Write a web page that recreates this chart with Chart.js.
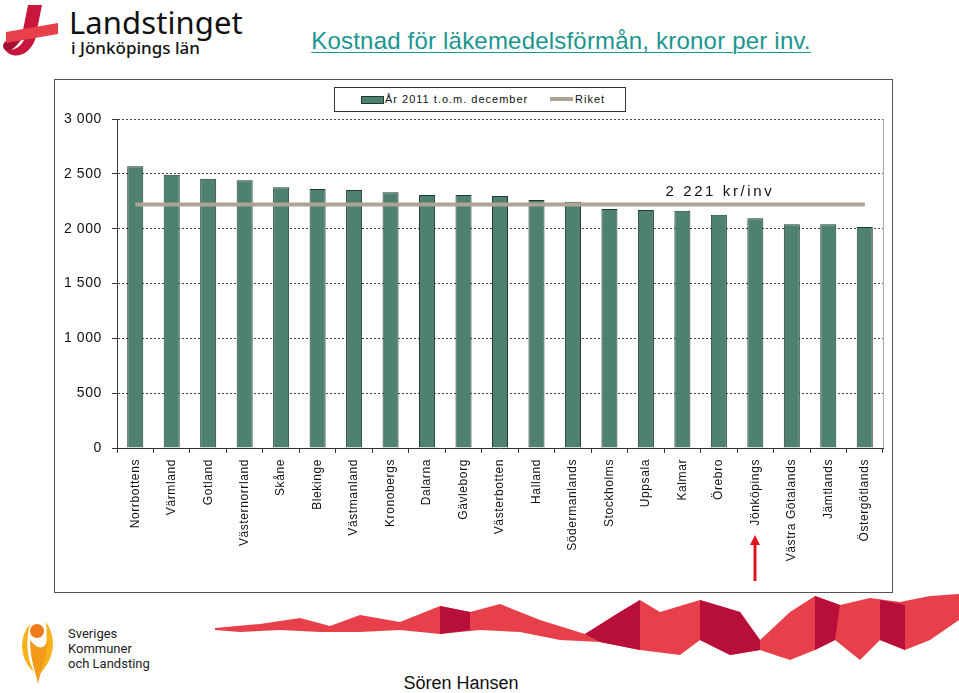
<!DOCTYPE html>
<html>
<head>
<meta charset="utf-8">
<script src="https://cdn.jsdelivr.net/npm/chart.js@4"></script>
<style>
  html, body { margin:0; padding:0; background:#fff; }
  body { width:959px; height:693px; position:relative; overflow:hidden; font-family:"Liberation Sans", Arial, sans-serif; }
  #frame { position:absolute; left:54px; top:79px; width:837px; height:512px; border:1px solid #555; }
  #c { position:absolute; left:55px; top:80px; }
  #title { position:absolute; left:0; width:959px; top:27px; text-align:center; padding-left:163px; box-sizing:border-box;
           font-size:24px; letter-spacing:0.2px; color:#1a968f; text-decoration:underline; text-underline-offset:3px; text-decoration-thickness:1px; }
  #legend { position:absolute; left:334px; top:87px; width:290px; height:23px; border:1px solid #333; background:#fff;
            font-size:11px; letter-spacing:1px; color:#111; }
  #legend .sw1 { position:absolute; left:26px; top:8px; width:21px; height:6px; background:#4f8170; border:1px solid #1f3a30; }
  #legend .t1 { position:absolute; left:50px; top:5px; }
  #legend .sw2 { position:absolute; left:215px; top:9px; width:23px; height:4px; background:#ada397; }
  #legend .t2 { position:absolute; left:240px; top:5px; }
  #logo1 { position:absolute; left:69px; top:5px; font-family:"Noto Sans", "Open Sans", sans-serif; color:#111; }
  #logo1 .a { font-size:31px; line-height:34px; letter-spacing:0.1px; }
  #logo1 .b { font-size:17px; line-height:18px; margin-left:2px; font-weight:500; }
  #skl { position:absolute; left:68px; top:626px; font-family:"Liberation Sans Narrow", "Roboto", sans-serif; font-size:13px; line-height:15px; color:#222; }
  #author { position:absolute; left:0; width:922px; text-align:center; top:673px; font-size:18px; color:#111; }
</style>
</head>
<body>
<svg width="959" height="693" style="position:absolute;left:0;top:0">
  <!-- top-left emblem -->
  <polygon points="28,5 42,5 35,40 21,40" fill="#c8163d"/>
  <path d="M4,48 C10,60 28,58 35,40 L24,40 C20,48 12,52 4,48 Z" fill="#c8163d"/>
  <path d="M22,38 C14,52 4,54 3,46 C3,41 10,38 20,38 Z" fill="#a40f33"/>
  <polygon points="6,32 58,23 58,34 6,43" fill="#e8404a"/>
  <!-- bottom ribbon -->
  <polygon points="215,628 260,624 300,618 330,626 360,615 400,622 440,606 470,612 500,604 540,620 585,634 620,612 640,600 660,612 700,600 740,612 760,640 790,612 815,596 840,605 870,598 900,602 930,596 959,594 959,620 930,640 905,650 880,640 860,660 835,640 815,650 790,660 760,650 730,655 700,640 680,655 640,650 600,642 560,640 520,632 480,630 440,634 400,630 360,632 320,632 280,630 240,632 215,630" fill="#e8404a"/>
  <polygon points="440,606 470,612 470,630 440,634" fill="#b80f3a"/>
  <polygon points="585,634 620,612 640,600 640,650 600,642" fill="#b80f3a"/>
  <polygon points="700,600 740,612 760,640 760,650 730,655 700,640" fill="#b80f3a"/>
  <polygon points="815,596 840,605 835,640 815,650" fill="#b80f3a"/>
  <polygon points="880,600 905,605 905,650 880,640" fill="#b80f3a"/>
  <!-- SKL emblem -->
  <path d="M30,624 C18,638 20,660 34,672 C26,656 26,640 30,624 Z" fill="#f5b21a"/>
  <path d="M46,622 C58,640 54,660 38,676 C46,656 48,640 46,622 Z" fill="#f5b21a"/>
  <circle cx="37" cy="631" r="7" fill="#ee7a1a"/>
  <path d="M30,640 C38,650 44,650 48,640 C46,660 40,672 38,684 C36,672 30,660 30,640 Z" fill="#f29a1a"/>
</svg>
<div id="logo1"><div class="a">Landstinget</div><div class="b">i Jönköpings län</div></div>
<div id="title">Kostnad för läkemedelsförmån, kronor per inv.</div>
<div id="frame"></div>
<canvas id="c" width="837" height="512"></canvas>
<div id="legend"><div class="sw1"></div><div class="t1">År 2011 t.o.m. december</div><div class="sw2"></div><div class="t2">Riket</div></div>
<div id="skl">Sveriges<br>Kommuner<br>och Landsting</div>
<div id="author">Sören Hansen</div>
<script>
const categories = ['Norrbottens','Värmland','Gotland','Västernorrland','Skåne','Blekinge','Västmanland','Kronobergs','Dalarna','Gävleborg','Västerbotten','Halland','Södermanlands','Stockholms','Uppsala','Kalmar','Örebro','Jönköpings','Västra Götalands','Jämtlands','Östergötlands'];
const values2011 = [2569,2492,2456,2441,2377,2362,2353,2331,2307,2307,2298,2261,2246,2179,2170,2164,2127,2094,2040,2040,2015];
const riketValue = 2221;
const riketLabel = '2 221 kr/inv';
const yTickValues = [0,500,1000,1500,2000,2500,3000];
const yTickLabels = ['0','500','1 000','1 500','2 000','2 500','3 000'];
const highlighted = 'Jönköpings';

const riketSeries = categories.map(() => riketValue);

const extras = {
  id: 'extras',
  beforeLayout(chart) { chart.ctx.letterSpacing = '0.6px'; },
  beforeDraw(chart) { chart.ctx.letterSpacing = '0.6px'; },
  afterDraw(chart) {
    const ctx = chart.ctx, a = chart.chartArea, xs = chart.scales.x, ys = chart.scales.y;
    ctx.save();
    // right border of plot area
    ctx.strokeStyle = '#aaa'; ctx.lineWidth = 1;
    ctx.beginPath(); ctx.moveTo(Math.round(a.right)+0.5, a.top); ctx.lineTo(Math.round(a.right)+0.5, a.bottom); ctx.stroke();
    // annotation
    ctx.letterSpacing = '2.6px';
    ctx.font = '15px "Liberation Sans", Arial, sans-serif';
    ctx.fillStyle = '#111'; ctx.textAlign = 'center'; ctx.textBaseline = 'alphabetic';
    ctx.fillText(riketLabel, xs.getPixelForValue(16) + 1, ys.getPixelForValue(riketValue) - 8);
    // red arrow under highlighted county
    const ax = Math.round(xs.getPixelForValue(categories.indexOf(highlighted)));
    const y1 = a.bottom + 133, y0 = a.bottom + 87;
    ctx.fillStyle = '#e0141e'; ctx.strokeStyle = '#e0141e'; ctx.lineWidth = 3;
    ctx.beginPath(); ctx.moveTo(ax, y1); ctx.lineTo(ax, y0 + 8); ctx.stroke();
    ctx.beginPath(); ctx.moveTo(ax, y0); ctx.lineTo(ax - 5, y0 + 10); ctx.lineTo(ax + 5, y0 + 10); ctx.closePath(); ctx.fill();
    ctx.restore();
  }
};

new Chart(document.getElementById('c'), {
  data: {
    labels: categories,
    datasets: [
      { type: 'line', label: 'Riket', data: riketSeries, borderColor: '#ada397', borderWidth: 4, pointRadius: 0, order: 1 },
      { type: 'bar', label: 'År 2011 t.o.m. december', data: values2011, backgroundColor: '#4f8170', borderColor: '#1f3a30', borderWidth: 1, barPercentage: 0.44, categoryPercentage: 1, order: 2 }
    ]
  },
  options: {
    responsive: false,
    animation: false,
    layout: { padding: { top: 39, right: 9, left: 0, bottom: 0 } },
    plugins: { legend: { display: false }, tooltip: { enabled: false } },
    scales: {
      x: {
        offset: true,
        afterFit(s) { s.height = 144; },
        grid: { offset: true, drawOnChartArea: false, drawTicks: true, tickLength: 5, color: '#333' },
        border: { display: true, color: '#333', width: 1 },
        ticks: { autoSkip: false, minRotation: 90, maxRotation: 90, padding: 6, color: '#111',
                 font: { family: '"Liberation Sans", Arial, sans-serif', size: 12 } }
      },
      y: {
        min: 0, max: 3000,
        afterFit(s) { s.width = 62; },
        afterBuildTicks(s) { s.ticks = yTickValues.map(v => ({ value: v })); },
        grid: { color: '#444', lineWidth: 1, tickLength: 5, tickColor: '#333', tickBorderDash: [] },
        border: { display: true, color: '#333', width: 1, dash: [2, 2] },
        ticks: { padding: 10, color: '#111', font: { family: '"Liberation Sans", Arial, sans-serif', size: 14 },
                 callback: (v) => yTickLabels[yTickValues.indexOf(v)] }
      }
    }
  },
  plugins: [extras]
});
</script>
</body>
</html>
